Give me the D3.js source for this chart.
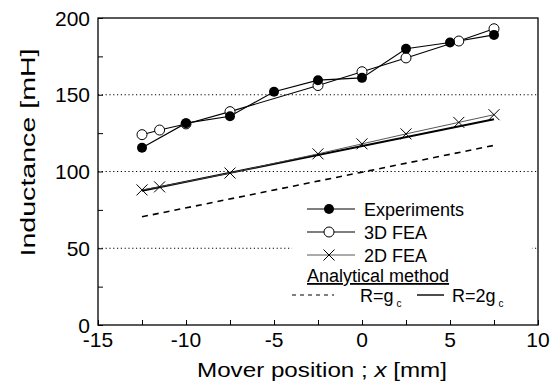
<!DOCTYPE html>
<html><head><meta charset="utf-8">
<script src="https://cdn.jsdelivr.net/npm/d3@7/dist/d3.min.js"></script>
<style>body{margin:0;background:#fff}svg{display:block;font-family:"Liberation Sans",Arial,Helvetica,sans-serif}</style>
</head><body><svg id="c" width="556" height="389"></svg>
<script>
// ---- data ----
const expX = [-12.5, -10, -7.5, -5, -2.5, 0, 2.5, 5, 7.5];
const expY = [115.5, 131.5, 136, 152, 159.5, 161, 180, 184, 189];
const fea3X = [-12.5, -11.5, -10, -7.5, -2.5, 0, 2.5, 5.5, 7.5];
const fea3Y = [124, 127, 131, 139, 156, 165, 174, 185, 193];
const fea2X = [-12.5, -11.5, -7.5, -2.5, 0, 2.5, 5.5, 7.5];
const fea2Y = [88, 90, 99, 111.5, 118, 124.5, 132, 137];
const anaX = [-12.5, 7.5];
const anaGcY = [70.5, 117];
const ana2GcY = [87.5, 134];
const xTicks = [-15, -10, -5, 0, 5, 10];
const yTicks = [0, 50, 100, 150, 200];
const gridY = [50, 100, 150];

const svg = d3.select("#c");
const L = 98, R = 538, T = 18, B = 325;
const x = d3.scaleLinear().domain([-15, 10]).range([L, R]);
const y = d3.scaleLinear().domain([0, 200]).range([B, T]);

// grid
svg.append("g").selectAll("line").data(gridY).join("line")
  .attr("x1", L).attr("x2", R).attr("y1", d => y(d)).attr("y2", d => y(d))
  .attr("stroke", "#000").attr("stroke-width", 1).attr("stroke-dasharray", "1.2,2.6");

// axes with inward ticks
const xAx = d3.axisBottom(x).tickValues(d3.range(-15, 10.01, 2.5)).tickSize(-5).tickFormat("");
const gx = svg.append("g").attr("transform", `translate(0,${B})`).call(xAx);
gx.select(".domain").remove();
gx.selectAll("line").attr("stroke", "#000");
const yAx = d3.axisLeft(y).tickValues(d3.range(0, 200.01, 25)).tickSize(-5).tickFormat("");
const gy = svg.append("g").attr("transform", `translate(${L},0)`).call(yAx);
gy.select(".domain").remove();
gy.selectAll("line").attr("stroke", "#000");

// tick labels
svg.append("g").selectAll("text").data(xTicks).join("text")
  .attr("x", d => x(d)).attr("y", B + 22).attr("text-anchor", "middle")
  .attr("font-size", 21).text(d => d);
svg.append("g").selectAll("text").data(yTicks).join("text")
  .attr("x", L - 8).attr("y", d => y(d) + 7.5).attr("text-anchor", "end")
  .attr("font-size", 21).text(d => d);

// axis titles
const xt = svg.append("text").attr("x", 322).attr("y", 377).attr("text-anchor", "middle")
  .attr("font-size", 20).attr("textLength", 250).attr("lengthAdjust", "spacingAndGlyphs");
xt.append("tspan").text("Mover position ; ");
xt.append("tspan").attr("font-style", "italic").text("x");
xt.append("tspan").text(" [mm]");
svg.append("text").attr("transform", `translate(35,152.5) rotate(-90)`)
  .attr("text-anchor", "middle").attr("font-size", 20.5)
  .attr("textLength", 208).attr("lengthAdjust", "spacingAndGlyphs").text("Inductance [mH]");

const line = d3.line().x(d => x(d[0])).y(d => y(d[1]));
const zip = (a, b) => a.map((v, i) => [v, b[i]]);

// analytical lines
svg.append("path").attr("d", line(zip(anaX, anaGcY))).attr("fill", "none")
  .attr("stroke", "#000").attr("stroke-width", 1.6).attr("stroke-dasharray", "6,5");
svg.append("path").attr("d", line(zip(anaX, ana2GcY))).attr("fill", "none")
  .attr("stroke", "#000").attr("stroke-width", 2);

// series lines
svg.append("path").attr("d", line(zip(fea2X, fea2Y))).attr("fill", "none").attr("stroke", "#444").attr("stroke-width", 0.9);
svg.append("path").attr("d", line(zip(fea3X, fea3Y))).attr("fill", "none").attr("stroke", "#000").attr("stroke-width", 1.1);
svg.append("path").attr("d", line(zip(expX, expY))).attr("fill", "none").attr("stroke", "#000").attr("stroke-width", 1.1);

// markers
const cross = (g, cx, cy, s) => g.append("path")
  .attr("d", `M${cx - s},${cy - s}L${cx + s},${cy + s}M${cx - s},${cy + s}L${cx + s},${cy - s}`)
  .attr("stroke", "#000").attr("stroke-width", 1);
const mk = svg.append("g");
zip(fea2X, fea2Y).forEach(d => cross(mk, x(d[0]), y(d[1]), 5.5));
mk.selectAll("circle.o").data(zip(fea3X, fea3Y)).join("circle").attr("class", "o")
  .attr("cx", d => x(d[0])).attr("cy", d => y(d[1])).attr("r", 5)
  .attr("fill", "#fff").attr("stroke", "#000").attr("stroke-width", 1);
mk.selectAll("circle.f").data(zip(expX, expY)).join("circle").attr("class", "f")
  .attr("cx", d => x(d[0])).attr("cy", d => y(d[1])).attr("r", 5)
  .attr("fill", "#000");

// legend
const lg = svg.append("g");
lg.append("rect").attr("x", 292).attr("y", 196).attr("width", 240).attr("height", 110).attr("fill", "#fff");
const fs = 18;
const rows = [209, 232, 255];
lg.append("line").attr("x1", 307).attr("x2", 355).attr("y1", rows[0]).attr("y2", rows[0]).attr("stroke", "#000").attr("stroke-width", 1.1);
lg.append("circle").attr("cx", 329).attr("cy", rows[0]).attr("r", 5).attr("fill", "#000");
lg.append("text").attr("x", 364).attr("y", rows[0] + 6.5).attr("font-size", fs).text("Experiments");
lg.append("line").attr("x1", 307).attr("x2", 355).attr("y1", rows[1]).attr("y2", rows[1]).attr("stroke", "#000").attr("stroke-width", 1.1);
lg.append("circle").attr("cx", 329).attr("cy", rows[1]).attr("r", 5).attr("fill", "#fff").attr("stroke", "#000");
lg.append("text").attr("x", 364).attr("y", rows[1] + 6.5).attr("font-size", fs).text("3D FEA");
lg.append("line").attr("x1", 307).attr("x2", 355).attr("y1", rows[2]).attr("y2", rows[2]).attr("stroke", "#444").attr("stroke-width", 0.9);
cross(lg, 329, rows[2], 5.5);
lg.append("text").attr("x", 364).attr("y", rows[2] + 6.5).attr("font-size", fs).text("2D FEA");
lg.append("text").attr("x", 307).attr("y", 282).attr("font-size", fs).attr("text-decoration", "underline").text("Analytical method");
const r5 = 295;
lg.append("line").attr("x1", 292).attr("x2", 334).attr("y1", r5).attr("y2", r5).attr("stroke", "#000").attr("stroke-width", 1.2).attr("stroke-dasharray", "4,4");
const t1 = lg.append("text").attr("x", 360).attr("y", r5 + 6.5).attr("font-size", fs);
t1.append("tspan").text("R=g");
t1.append("tspan").attr("font-size", 10).attr("dx", 3).attr("dy", 5).text("c");
lg.append("line").attr("x1", 417).attr("x2", 444).attr("y1", r5).attr("y2", r5).attr("stroke", "#000").attr("stroke-width", 1.4);
const t2 = lg.append("text").attr("x", 452).attr("y", r5 + 6.5).attr("font-size", fs);
t2.append("tspan").text("R=2g");
t2.append("tspan").attr("font-size", 10).attr("dx", 3).attr("dy", 5).text("c");

// frame
svg.append("rect").attr("x", L).attr("y", T).attr("width", R - L).attr("height", B - T)
  .attr("fill", "none").attr("stroke", "#000").attr("stroke-width", 1.3);
</script></body></html>
